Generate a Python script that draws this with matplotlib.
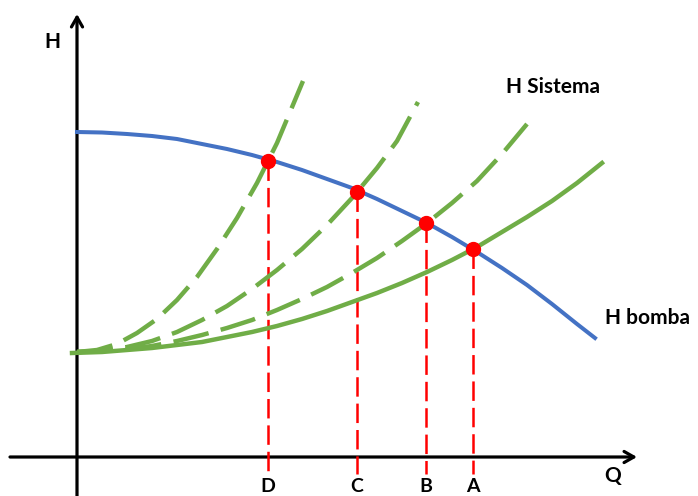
import numpy as np
import matplotlib
matplotlib.use("Agg")
import matplotlib.pyplot as plt

# curve points (Q, H in arbitrary units)
q_pump = [0.0, 0.25, 0.5, 0.75, 1.0, 1.25, 1.5, 1.75, 2.0, 2.25, 2.5,
          2.75, 3.0, 3.25, 3.5, 3.75, 4.0, 4.25, 4.5, 4.75, 5.0, 5.18]
h_pump = [3.25, 3.245, 3.23, 3.21, 3.18, 3.13, 3.08, 3.02, 2.95, 2.87, 2.78,
          2.69, 2.58, 2.46, 2.34, 2.20, 2.05, 1.89, 1.72, 1.53, 1.33, 1.19]

q_sys_a = [-0.05, 0.25, 0.5, 0.75, 1.0, 1.25, 1.5, 1.75, 2.0, 2.25, 2.5,
           2.75, 3.0, 3.25, 3.5, 3.75, 4.0, 4.25, 4.5, 4.75, 5.0, 5.25]
h_sys_a = [1.04, 1.05, 1.07, 1.09, 1.12, 1.15, 1.20, 1.25, 1.31, 1.38, 1.46,
           1.55, 1.64, 1.74, 1.85, 1.97, 2.10, 2.25, 2.40, 2.56, 2.74, 2.94]

q_sys_b = [0.0, 0.25, 0.5, 0.75, 1.0, 1.25, 1.5, 1.75, 2.0, 2.25, 2.5,
           2.75, 3.0, 3.25, 3.5, 3.75, 4.0, 4.25, 4.5]
h_sys_b = [1.05, 1.06, 1.08, 1.11, 1.16, 1.22, 1.29, 1.37, 1.47, 1.58, 1.70,
           1.84, 1.99, 2.16, 2.34, 2.54, 2.76, 3.03, 3.33]

q_sys_c = [0.0, 0.25, 0.5, 0.75, 1.0, 1.25, 1.5, 1.75, 2.0, 2.25, 2.5,
           2.75, 3.0, 3.2, 3.41]
h_sys_c = [1.05, 1.06, 1.10, 1.16, 1.25, 1.37, 1.51, 1.68, 1.87, 2.08, 2.32,
           2.59, 2.89, 3.16, 3.55]

q_sys_d = [0.0, 0.2, 0.4, 0.6, 0.8, 1.0, 1.2, 1.4, 1.6, 1.8, 2.0, 2.26]
h_sys_d = [1.05, 1.07, 1.13, 1.24, 1.38, 1.57, 1.80, 2.08, 2.39, 2.74, 3.14, 3.76]

# operating points
op_labels = ["D", "C", "B", "A"]
op_q = [1.91, 2.80, 3.49, 3.96]
op_h = [2.96, 2.65, 2.34, 2.08]

blue = "#4472C4"
green = "#70AD47"
red = "#FF0000"

plt.rcParams["lines.scale_dashes"] = False
plt.rcParams["font.family"] = ["Lato", "DejaVu Sans"]

fig = plt.figure(figsize=(6.98, 4.96), dpi=100)
ax = fig.add_axes([0, 0, 1, 1])
ax.set_xlim(-0.77, 6.21)
ax.set_ylim(-0.39, 4.57)
ax.axis("off")

# axes with arrows
arrow = dict(arrowstyle="->, head_length=0.7, head_width=0.4", lw=2.3,
             color="black", shrinkA=0, shrinkB=0)
ax.annotate("", xy=(5.60, 0), xytext=(-0.67, 0), arrowprops=arrow)
ax.annotate("", xy=(0, 4.43), xytext=(0, -0.40), arrowprops=arrow)

# red dashed verticals
for q, h in zip(op_q, op_h):
    ax.plot([q, q], [h, -0.17], color=red, lw=1.8, dashes=(14, 5), zorder=3)

# system curves
for qs, hs in [(q_sys_d, h_sys_d), (q_sys_c, h_sys_c), (q_sys_b, h_sys_b)]:
    ax.plot(qs, hs, color=green, lw=3.2, dashes=(26, 9),
            dash_capstyle="butt", dash_joinstyle="round", zorder=4)
ax.plot(q_sys_a, h_sys_a, color=green, lw=3.2, solid_joinstyle="round", zorder=4)

# pump curve
ax.plot(q_pump, h_pump, color=blue, lw=2.9, solid_joinstyle="round", zorder=5)

ax.plot(op_q, op_h, "o", color=red, ms=10, zorder=6)

tkw = dict(fontsize=15, fontweight="bold", color="black")
ax.text(-0.25, 4.15, "H", ha="center", va="center", **tkw)
ax.text(5.36, -0.19, "Q", ha="center", va="center", **tkw)
ax.text(4.76, 3.70, "H Sistema", ha="center", va="center", **tkw)
ax.text(5.28, 1.39, "H bomba", ha="left", va="center", **tkw)
for lab, q in zip(op_labels, op_q):
    ax.text(q, -0.215, lab, ha="center", va="top", fontsize=14,
            fontweight="bold", color="black")

fig.savefig("out.png", dpi=100)
